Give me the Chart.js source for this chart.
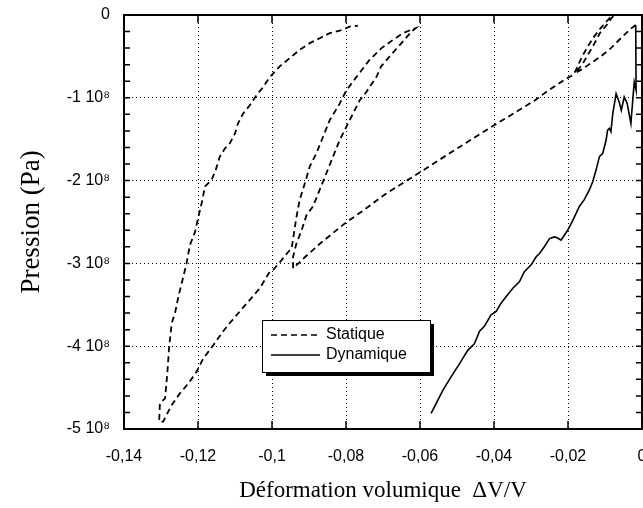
<!DOCTYPE html>
<html>
<head>
<meta charset="utf-8">
<script src="https://cdn.jsdelivr.net/npm/chart.js@4"></script>
<style>
  html, body { margin: 0; padding: 0; background: #fff; }
</style>
</head>
<body>
<canvas id="pressionChart" width="643" height="508"></canvas>
<script>
// déformation volumique (ΔV/V) et pression (x 10^8 Pa)
const statiqueDeformation = [
  -0.0017, -0.0034, -0.0057, -0.0084, -0.0111, -0.0138, -0.0160, -0.0180,
  -0.0162, -0.0146, -0.0128, -0.0114, -0.0097, -0.0081, -0.0077,
  -0.0086, -0.0100, -0.0114, -0.0131, -0.0145, -0.0158, -0.0167, -0.0176, -0.0185,
  -0.0205, -0.0232, -0.0259, -0.0286, -0.0340, -0.0403, -0.0460, -0.0520, -0.0600, -0.0650,
  -0.0696, -0.0750, -0.0804, -0.0870, -0.0910, -0.0943,
  -0.0943, -0.0934, -0.0920, -0.0907, -0.0889, -0.0871, -0.0853, -0.0835, -0.0817, -0.0799,
  -0.0781, -0.0763, -0.0745, -0.0718, -0.0705, -0.0678, -0.0650, -0.0623, -0.0612,
  -0.0625, -0.0646, -0.0673, -0.0704, -0.0736, -0.0772, -0.0799, -0.0817, -0.0844, -0.0862,
  -0.0880, -0.0898, -0.0911, -0.0925, -0.0934, -0.0940, -0.0947, -0.0956, -0.0974, -0.0997,
  -0.1006, -0.1033, -0.1060, -0.1087, -0.1114, -0.1132, -0.1159, -0.1186, -0.1204, -0.1226,
  -0.1249, -0.1271, -0.1285, -0.1294, -0.1305,
  -0.1303, -0.1289, -0.1283, -0.1278, -0.1271, -0.1262, -0.1253, -0.1244, -0.1231, -0.1222,
  -0.1208, -0.1199, -0.1190, -0.1181, -0.1163, -0.1152, -0.1141, -0.1127, -0.1114, -0.1100,
  -0.1092, -0.1078, -0.1060, -0.1042, -0.1024, -0.1006, -0.0979, -0.0952, -0.0925, -0.0898,
  -0.0871, -0.0844, -0.0817, -0.0790, -0.0768
];
const statiquePression = [
  -0.12, -0.18, -0.28, -0.40, -0.50, -0.58, -0.65, -0.70,
  -0.60, -0.48, -0.34, -0.22, -0.13, -0.03, -0.01,
  -0.03, -0.10, -0.17, -0.27, -0.37, -0.47, -0.55, -0.64, -0.72,
  -0.77, -0.85, -0.93, -1.02, -1.17, -1.34, -1.50, -1.67, -1.90, -2.04,
  -2.17, -2.35, -2.52, -2.76, -2.92, -3.06,
  -2.92, -2.76, -2.60, -2.42, -2.31, -2.11, -1.91, -1.71, -1.51, -1.35,
  -1.19, -1.03, -0.93, -0.75, -0.62, -0.48, -0.34, -0.20, -0.16,
  -0.18, -0.22, -0.30, -0.40, -0.54, -0.75, -0.91, -1.07, -1.27, -1.47,
  -1.67, -1.83, -2.03, -2.23, -2.44, -2.62, -2.82, -2.86, -2.96, -3.08,
  -3.10, -3.30, -3.44, -3.58, -3.72, -3.82, -3.99, -4.15, -4.31, -4.45,
  -4.57, -4.71, -4.83, -4.91, -4.91,
  -4.69, -4.63, -4.33, -4.01, -3.72, -3.60, -3.40, -3.24, -3.00, -2.78,
  -2.62, -2.44, -2.27, -2.07, -1.99, -1.87, -1.71, -1.61, -1.55, -1.43,
  -1.31, -1.19, -1.09, -0.97, -0.87, -0.75, -0.62, -0.52, -0.42, -0.34,
  -0.28, -0.22, -0.19, -0.14, -0.13
];

const dynamiqueDeformation = [
  -0.0570, -0.0538, -0.0516, -0.0493, -0.0471, -0.0453, -0.0439, -0.0426, -0.0408, -0.0394,
  -0.0381, -0.0367, -0.0349, -0.0331, -0.0318, -0.0300, -0.0286, -0.0277, -0.0264, -0.0250,
  -0.0237, -0.0229, -0.0219, -0.0210, -0.0201, -0.0187, -0.0169, -0.0156, -0.0142, -0.0133,
  -0.0124, -0.0115, -0.0106, -0.0097, -0.0093, -0.0088, -0.0084, -0.0079, -0.0070, -0.0061,
  -0.0056, -0.0048, -0.0040, -0.0030, -0.0025, -0.0021, -0.0016, -0.0017
];
const dynamiquePression = [
  -4.81, -4.53, -4.37, -4.21, -4.05, -3.97, -3.82, -3.76, -3.62, -3.58,
  -3.48, -3.40, -3.30, -3.22, -3.10, -3.02, -2.92, -2.88, -2.80, -2.70,
  -2.68, -2.69, -2.72, -2.66, -2.60, -2.48, -2.31, -2.23, -2.11, -2.01,
  -1.87, -1.71, -1.67, -1.51, -1.39, -1.37, -1.41, -1.19, -0.95, -1.06,
  -1.15, -0.99, -1.07, -1.31, -1.03, -0.81, -0.91, -0.12
];

const xTicks = [-0.14, -0.12, -0.1, -0.08, -0.06, -0.04, -0.02, 0];
const xTickLabels = ['-0,14', '-0,12', '-0,1', '-0,08', '-0,06', '-0,04', '-0,02', '0'];
const yTicks = [-5, -4, -3, -2, -1, 0];
const yTickLabels = ['-5 10⁸', '-4 10⁸', '-3 10⁸', '-2 10⁸', '-1 10⁸', '0'];
const yMinorTicks = [];
for (let i = 0; i <= 25; i++) yMinorTicks.push(-5 + i * 0.2);

const toPoints = (xs, ys) => xs.map((x, i) => ({ x: x, y: ys[i] }));

const cadre = {
  id: 'cadre',
  afterDraw(chart) {
    const { ctx, chartArea: a, scales: { x, y } } = chart;
    ctx.save();
    ctx.strokeStyle = '#000';
    ctx.setLineDash([]);
    ctx.lineWidth = 1.5;
    ctx.beginPath();
    xTicks.forEach(v => {
      const px = x.getPixelForValue(v);
      ctx.moveTo(px, a.bottom); ctx.lineTo(px, a.bottom - 8);
      ctx.moveTo(px, a.top); ctx.lineTo(px, a.top + 8);
    });
    yMinorTicks.forEach(v => {
      const py = y.getPixelForValue(v);
      ctx.moveTo(a.left, py); ctx.lineTo(a.left + 6, py);
      ctx.moveTo(a.right, py); ctx.lineTo(a.right - 6, py);
    });
    ctx.stroke();
    ctx.lineWidth = 2;
    ctx.strokeRect(a.left, a.top, a.right - a.left, a.bottom - a.top);

    // légende
    const lx = 262, ly = 320, lw = 168, lh = 52;
    ctx.fillStyle = '#000';
    ctx.fillRect(lx + 4, ly + 4, lw, lh);
    ctx.fillStyle = '#fff';
    ctx.fillRect(lx, ly, lw, lh);
    ctx.lineWidth = 1;
    ctx.strokeRect(lx + 0.5, ly + 0.5, lw, lh);
    ctx.font = '16px "Liberation Sans", Arial, sans-serif';
    ctx.textBaseline = 'middle';
    ctx.fillStyle = '#000';
    chart.data.datasets.forEach((ds, i) => {
      const yy = ly + 15 + i * 20;
      ctx.lineWidth = 1.3;
      ctx.setLineDash(ds.borderDash || []);
      ctx.beginPath();
      ctx.moveTo(lx + 9, yy); ctx.lineTo(lx + 58, yy);
      ctx.stroke();
      ctx.setLineDash([]);
      ctx.fillText(ds.label, lx + 64, yy);
    });
    ctx.restore();
  }
};

const ctx = document.getElementById('pressionChart').getContext('2d');
const pressionChart = new Chart(ctx, {
  type: 'scatter',
  data: {
    datasets: [{
      label: 'Statique',
      data: toPoints(statiqueDeformation, statiquePression),
      showLine: true,
      borderColor: '#000',
      borderWidth: 1.8,
      borderDash: [6, 4],
      pointRadius: 0,
      tension: 0
    }, {
      label: 'Dynamique',
      data: toPoints(dynamiqueDeformation, dynamiquePression),
      showLine: true,
      borderColor: '#000',
      borderWidth: 1.6,
      pointRadius: 0,
      tension: 0
    }]
  },
  options: {
    responsive: false,
    animation: false,
    layout: { padding: { top: 15, right: 1, left: 0, bottom: 0 } },
    plugins: {
      legend: { display: false },
      tooltip: { enabled: false }
    },
    scales: {
      x: {
        type: 'linear',
        min: -0.14,
        max: 0,
        afterBuildTicks: s => { s.ticks = xTicks.map(v => ({ value: v })); },
        afterFit: s => { s.height = 79; s.paddingLeft = 0; s.paddingRight = 0; },
        ticks: {
          padding: 18,
          color: '#000',
          font: { family: '"Liberation Sans", Arial, sans-serif', size: 16 },
          callback: v => xTickLabels[xTicks.findIndex(t => Math.abs(t - v) < 1e-9)]
        },
        grid: { color: '#000', lineWidth: 1, drawTicks: false },
        border: { display: false, dash: [1, 3] },
        title: {
          display: true,
          text: 'Déformation volumique  ΔV/V',
          color: '#000',
          font: { family: '"Liberation Serif", "Times New Roman", serif', size: 23, lineHeight: 1 },
          padding: { top: 0, bottom: 6 }
        }
      },
      y: {
        min: -5,
        max: 0,
        afterBuildTicks: s => { s.ticks = yTicks.map(v => ({ value: v })); },
        afterFit: s => { s.width = 124; s.paddingTop = 0; s.paddingBottom = 0; },
        ticks: {
          padding: 14,
          color: '#000',
          font: { family: '"Liberation Sans", Arial, sans-serif', size: 16 },
          callback: v => yTickLabels[yTicks.findIndex(t => Math.abs(t - v) < 1e-9)]
        },
        grid: { color: '#000', lineWidth: 1, drawTicks: false },
        border: { display: false, dash: [1, 3] },
        title: {
          display: true,
          text: 'Pression (Pa)',
          color: '#000',
          font: { family: '"Liberation Serif", "Times New Roman", serif', size: 27, lineHeight: 1 },
          padding: { top: 18, bottom: 0 }
        }
      }
    }
  },
  plugins: [cadre]
});
</script>
</body>
</html>
